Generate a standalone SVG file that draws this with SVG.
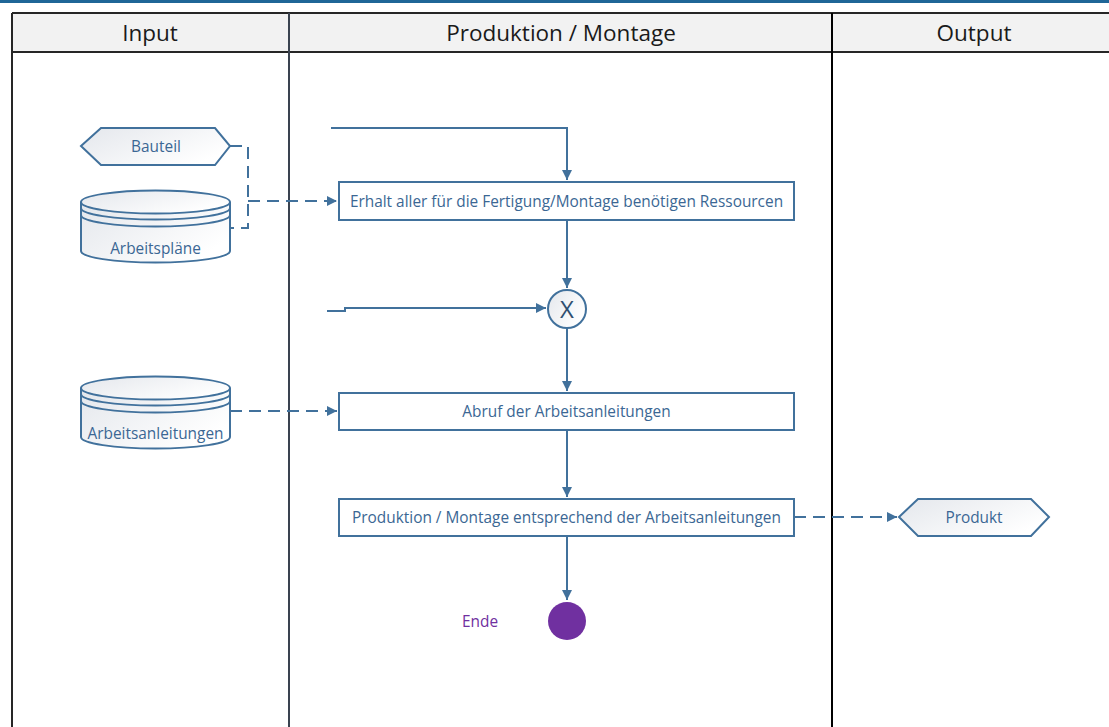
<svg xmlns="http://www.w3.org/2000/svg" width="1109" height="727" viewBox="0 0 1109 727">
  <style>
    .hdr { font-family: "Open Sans", "Liberation Sans", sans-serif; font-size: 22.5px; fill: #1a1a1a; text-anchor: middle; }
    .lbl { font-family: "Open Sans", "Liberation Sans", sans-serif; font-size: 15.4px; fill: #3b6794; text-anchor: middle; }
    .shape { stroke: #41719c; stroke-width: 2; }
    .box { fill: #ffffff; stroke: #41719c; stroke-width: 2; }
    .flow { fill: none; stroke: #41719c; stroke-width: 2; }
    .dash { fill: none; stroke: #41719c; stroke-width: 2; stroke-dasharray: 12 7; }
    .grid { stroke: #262626; stroke-width: 2; fill: none; }
  </style>
  <defs>
    <linearGradient id="soft" x1="0" y1="0" x2="1" y2="0.6">
      <stop offset="0" stop-color="#e4e7ec"/>
      <stop offset="1" stop-color="#ffffff"/>
    </linearGradient>
    <marker id="arrow" viewBox="0 0 10 10" refX="10" refY="5" markerWidth="5" markerHeight="5" orient="auto" markerUnits="strokeWidth">
      <path d="M0,0 L10,5 L0,10 z" fill="#41719c"/>
    </marker>
  </defs>

  <rect width="1109" height="727" fill="#ffffff"/>
  <!-- title bar -->
  <rect x="0" y="0" width="1109" height="3" fill="#1f6697"/>

  <!-- swimlane table -->
  <g id="lanes">
    <rect x="12" y="13" width="1100" height="39" fill="#f2f2f2"/>
    <line class="grid" x1="12" y1="13" x2="1110" y2="13"/>
    <line class="grid" x1="12" y1="52" x2="1110" y2="52"/>
    <line class="grid" x1="12" y1="13" x2="12" y2="727"/>
    <line x1="289" y1="13" x2="289" y2="727" stroke="#3a4350" stroke-width="2"/>
    <line x1="832" y1="13" x2="832" y2="727" stroke="#000000" stroke-width="2"/>
    <text class="hdr" x="150" y="41">Input</text>
    <text class="hdr" x="561" y="41">Produktion / Montage</text>
    <text class="hdr" x="974" y="41">Output</text>
  </g>

  <!-- connectors -->
  <g id="connectors">
    <path class="flow" d="M331,128 H567 V180" marker-end="url(#arrow)"/>
    <path class="flow" d="M567,221 V288" marker-end="url(#arrow)"/>
    <path class="flow" d="M327,311 H345 V308 H546" marker-end="url(#arrow)"/>
    <path class="flow" d="M567,328 V391" marker-end="url(#arrow)"/>
    <path class="flow" d="M567,431 V497" marker-end="url(#arrow)"/>
    <path class="flow" d="M567,537 V600" marker-end="url(#arrow)"/>
    <path class="dash" d="M230,146 H248 V228 H230"/>
    <path class="dash" d="M248,201 H337" marker-end="url(#arrow)"/>
    <path class="dash" d="M230,411 H337" marker-end="url(#arrow)"/>
    <path class="dash" d="M794,517 H897" marker-end="url(#arrow)"/>
  </g>

  <!-- input: Bauteil -->
  <g id="bauteil">
    <polygon class="shape" fill="url(#soft)" points="81,146 101,128 215,128 230,146 215,165 101,165"/>
    <text class="lbl" x="156" y="152">Bauteil</text>
  </g>

  <!-- input: Arbeitspläne -->
  <g id="arbeitsplaene">
    <path class="shape" fill="url(#soft)" d="M81,202 V251 A74.5,11.5 0 0 0 230,251 V202"/>
    <ellipse class="shape" fill="url(#soft)" cx="155.5" cy="202" rx="74.5" ry="11.5"/>
    <path class="shape" fill="none" d="M81,208 A74.5,11.5 0 0 0 230,208"/>
    <path class="shape" fill="none" d="M81,215 A74.5,11.5 0 0 0 230,215"/>
    <text class="lbl" x="155.5" y="254">Arbeitspläne</text>
  </g>

  <!-- input: Arbeitsanleitungen -->
  <g id="arbeitsanleitungen">
    <path class="shape" fill="url(#soft)" d="M81,388 V437 A74.5,11.5 0 0 0 230,437 V388"/>
    <ellipse class="shape" fill="url(#soft)" cx="155.5" cy="388" rx="74.5" ry="11.5"/>
    <path class="shape" fill="none" d="M81,394 A74.5,11.5 0 0 0 230,394"/>
    <path class="shape" fill="none" d="M81,401 A74.5,11.5 0 0 0 230,401"/>
    <text class="lbl" x="155.5" y="439">Arbeitsanleitungen</text>
  </g>

  <!-- process steps -->
  <g id="erhalt">
    <rect class="box" x="339" y="182" width="455" height="38"/>
    <text class="lbl" x="566.5" y="206.5">Erhalt aller für die Fertigung/Montage benötigen Ressourcen</text>
  </g>

  <g id="gateway">
    <circle cx="567" cy="309" r="19" fill="url(#soft)" stroke="#41719c" stroke-width="2"/>
    <text x="567" y="318" font-family="Open Sans, Liberation Sans, sans-serif" font-size="24" fill="#2f4f70" text-anchor="middle">X</text>
  </g>

  <g id="abruf">
    <rect class="box" x="339" y="393" width="455" height="37"/>
    <text class="lbl" x="566.5" y="417">Abruf der Arbeitsanleitungen</text>
  </g>

  <g id="produktion">
    <rect class="box" x="339" y="499" width="455" height="37"/>
    <text class="lbl" x="566.5" y="523">Produktion / Montage entsprechend der Arbeitsanleitungen</text>
  </g>

  <g id="ende">
    <circle cx="567" cy="621" r="19" fill="#7030a0"/>
    <text x="480" y="627" font-family="Open Sans, Liberation Sans, sans-serif" font-size="15.4" fill="#7030a0" text-anchor="middle">Ende</text>
  </g>

  <!-- output: Produkt -->
  <g id="produkt">
    <polygon class="shape" fill="url(#soft)" points="899,517 918,499 1031,499 1049,517 1031,536 918,536"/>
    <text class="lbl" x="974" y="523">Produkt</text>
  </g>
</svg>
